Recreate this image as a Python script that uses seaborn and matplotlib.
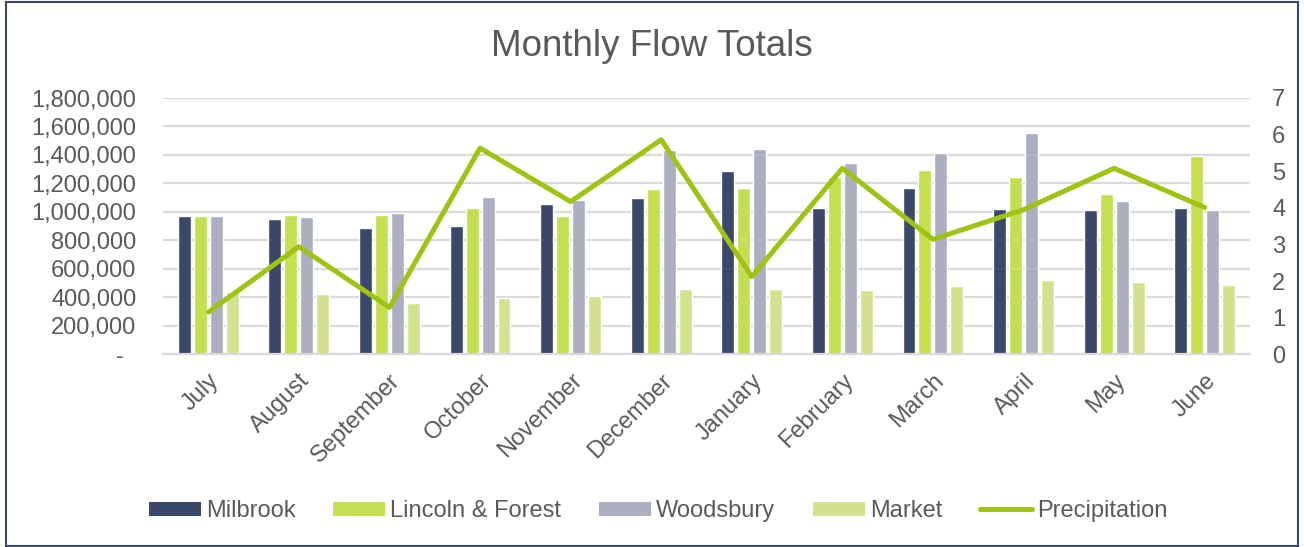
import numpy as np
import pandas as pd
import matplotlib
matplotlib.use("Agg")
import matplotlib.pyplot as plt
from matplotlib.patches import Rectangle
from matplotlib.lines import Line2D
from matplotlib.ticker import FuncFormatter
import seaborn as sns

months = ["July", "August", "September", "October", "November", "December",
          "January", "February", "March", "April", "May", "June"]
milbrook = [968000, 951000, 888000, 900000, 1055000, 1097000,
            1289000, 1026000, 1169000, 1019000, 1015000, 1026000]
lincoln_forest = [968000, 975000, 977000, 1029000, 968000, 1162000,
                  1169000, 1242000, 1291000, 1247000, 1127000, 1392000]
woodsbury = [968000, 965000, 994000, 1104000, 1085000, 1436000,
             1441000, 1345000, 1411000, 1551000, 1080000, 1010000]
market = [438000, 422000, 359000, 398000, 410000, 457000,
          459000, 455000, 483000, 520000, 508000, 487000]
precipitation = [1.15, 2.94, 1.28, 5.63, 4.17, 5.86,
                 2.12, 5.08, 3.14, 3.95, 5.08, 4.01]

series_names = ["Milbrook", "Lincoln & Forest", "Woodsbury", "Market"]
series_vals = [milbrook, lincoln_forest, woodsbury, market]
colors = ["#3B476B", "#C4DF50", "#ABAFC0", "#D3E28F"]
line_color = "#9DC313"
text_color = "#595959"
grid_color = "#D9D9D9"

rows = []
for name, vals in zip(series_names, series_vals):
    for m, v in zip(months, vals):
        rows.append({"Month": m, "Station": name, "Flow": v})
df = pd.DataFrame(rows)

sns.set_theme(style="white")
plt.rcParams["font.family"] = ["Liberation Sans", "DejaVu Sans"]

fig = plt.figure(figsize=(13.04, 5.47), dpi=100)
ax = fig.add_axes([163 / 1304, 1 - 354.3 / 547, (1250 - 163) / 1304, (354.3 - 98) / 547])

sns.barplot(data=df, x="Month", y="Flow", hue="Station", order=months,
            hue_order=series_names, palette=colors, width=0.706, gap=0.19,
            saturation=1, ax=ax, legend=False, errorbar=None)

ax.set_ylim(0, 1800000)
ax.set_xlim(-0.5, len(months) - 0.5)
ax.set_yticks(np.arange(0, 1800001, 200000))
ax.yaxis.set_major_formatter(FuncFormatter(lambda v, p: "-  " if v == 0 else f"{int(v):,}"))
ax.grid(axis="y", color=grid_color, linewidth=1.6)
ax.set_axisbelow(True)
for s in ["top", "right", "left"]:
    ax.spines[s].set_visible(False)
ax.spines["bottom"].set_color(grid_color)
ax.spines["bottom"].set_linewidth(1.6)
ax.set_xlabel("")
ax.set_ylabel("")
ax.tick_params(axis="y", length=0, pad=19, labelsize=17, labelcolor=text_color)
ax.tick_params(axis="x", length=0, pad=11, labelsize=17, labelcolor=text_color)
for lab in ax.get_xticklabels():
    lab.set_rotation(45)
    lab.set_ha("right")
    lab.set_va("top")
    lab.set_rotation_mode("anchor")

ax2 = ax.twinx()
sns.lineplot(x=np.arange(len(months)), y=precipitation, color=line_color,
             linewidth=3.6, ax=ax2, legend=False)
ax2.set_ylim(0, 7)
ax2.set_yticks(range(0, 8))
ax2.set_xlim(-0.5, len(months) - 0.5)
for s in ["top", "right", "left", "bottom"]:
    ax2.spines[s].set_visible(False)
ax2.grid(False)
ax2.set_ylabel("")
ax2.tick_params(axis="y", length=0, pad=16, labelsize=17, labelcolor=text_color)

fig.text(0.5, 1 - 47 / 547, "Monthly Flow Totals", ha="center", va="center",
         fontsize=26.5, color=text_color)

handles = [Rectangle((0, 0), 1, 1, facecolor=c, edgecolor="none") for c in colors]
handles.append(Line2D([0], [0], color=line_color, linewidth=3.6))
labels = series_names + ["Precipitation"]
fig.legend(handles, labels, loc="center", bbox_to_anchor=(658 / 1304, 1 - 511 / 547),
           ncol=5, frameon=False, fontsize=17, labelcolor=text_color,
           handlelength=2.2, handleheight=0.52, handletextpad=0.21,
           columnspacing=1.6)

fig.patches.append(Rectangle((6 / 1304, 1 / 547), (1298 - 6) / 1304, (545 - 1) / 547,
                             transform=fig.transFigure, fill=False,
                             edgecolor="#3B476B", linewidth=1.5))

fig.savefig("out.png", dpi=100, facecolor="white")
